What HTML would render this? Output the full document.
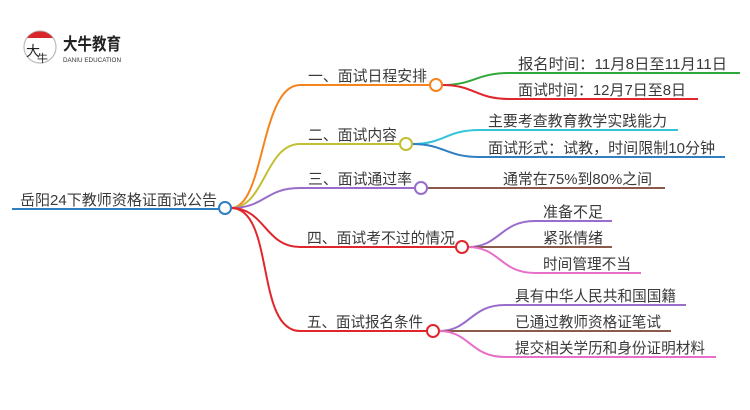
<!DOCTYPE html>
<html><head><meta charset="utf-8"><style>
html,body{margin:0;padding:0;background:#fff;}
svg{display:block}
text{font-family:"Liberation Sans","Noto Sans CJK SC",sans-serif;fill:#3a3a3a;}
</style></head><body>
<svg width="750" height="410" viewBox="0 0 750 410" xmlns="http://www.w3.org/2000/svg">
<!-- logo -->
<circle cx="40" cy="47" r="16" fill="#fff" stroke="#bbb" stroke-width="1.2"/>
<path d="M27,38 A16,16 0 0 1 53,38 Z" fill="#d9262b"/>
<text x="26" y="56" font-size="14" style="fill:#222">大</text>
<text x="37" y="62" font-size="11" style="fill:#222">牛</text>
<text x="63" y="50" font-size="17" font-weight="bold" style="fill:#222" textLength="58" lengthAdjust="spacingAndGlyphs">大牛教育</text>
<text x="63" y="62" font-size="6.5" style="fill:#333" textLength="58" lengthAdjust="spacingAndGlyphs">DANIU EDUCATION</text>

<g fill="none" stroke-width="2">
<line x1="12" y1="209" x2="219" y2="209" stroke="#2f7fc1"/>
<path d="M231,208 C265,208 260,85 300,85 L430,85" stroke="#f5841f"/>
<path d="M231,208 C265,208 265,144 300,144 L400,144" stroke="#c2c030"/>
<path d="M231,208 C265,208 265,188 300,188 L415,188" stroke="#9a6ccc"/>
<path d="M231,208 C265,208 265,247 300,247 L456,247" stroke="#e0262c"/>
<path d="M231,208 C275,208 255,331 300,331 L427,331" stroke="#e0262c"/>
<path d="M442,85 C475,85 475,73 510,73 L740,73" stroke="#2ea838"/>
<path d="M442,85 C475,85 475,99 510,99 L698,99" stroke="#e0262c"/>
<path d="M412,144 C445,144 445,130 480,130 L678,130" stroke="#33c4d8"/>
<path d="M412,144 C445,144 445,157 480,157 L725,157" stroke="#2f7fc1"/>
<path d="M427,188 L665,188" stroke="#8b5a4a"/>
<path d="M468,247 C500,247 500,221 535,221 L612,221" stroke="#9a6ccc"/>
<path d="M468,247 L612,247" stroke="#8b5a4a"/>
<path d="M468,247 C500,247 500,273 535,273 L641,273" stroke="#e86fc8"/>
<path d="M439,331 C470,331 470,305 505,305 L686,305" stroke="#9a6ccc"/>
<path d="M439,331 L671,331" stroke="#8b5a4a"/>
<path d="M439,331 C470,331 470,357 505,357 L716,357" stroke="#e86fc8"/>
</g>
<g fill="#fff" stroke-width="2">
<circle cx="225" cy="208" r="6" stroke="#2f7fc1"/>
<circle cx="436" cy="85" r="6" stroke="#f5841f"/>
<circle cx="406" cy="144" r="6" stroke="#c2c030"/>
<circle cx="421" cy="188" r="6" stroke="#9a6ccc"/>
<circle cx="462" cy="247" r="6" stroke="#e0262c"/>
<circle cx="433" cy="331" r="6" stroke="#e0262c"/>
</g>
<g font-size="15">
<text x="20" y="205" textLength="197" lengthAdjust="spacingAndGlyphs">岳阳24下教师资格证面试公告</text>
<text x="308" y="81" textLength="119" lengthAdjust="spacingAndGlyphs">一、面试日程安排</text>
<text x="308" y="140" textLength="89" lengthAdjust="spacingAndGlyphs">二、面试内容</text>
<text x="308" y="184" textLength="104" lengthAdjust="spacingAndGlyphs">三、面试通过率</text>
<text x="307" y="243" textLength="148" lengthAdjust="spacingAndGlyphs">四、面试考不过的情况</text>
<text x="307" y="327" textLength="116" lengthAdjust="spacingAndGlyphs">五、面试报名条件</text>
<text x="518" y="69" textLength="209" lengthAdjust="spacingAndGlyphs">报名时间：11月8日至11月11日</text>
<text x="518" y="95" textLength="168" lengthAdjust="spacingAndGlyphs">面试时间：12月7日至8日</text>
<text x="488" y="126" textLength="179" lengthAdjust="spacingAndGlyphs">主要考查教育教学实践能力</text>
<text x="488" y="153" textLength="227" lengthAdjust="spacingAndGlyphs">面试形式：试教，时间限制10分钟</text>
<text x="503" y="184" textLength="149" lengthAdjust="spacingAndGlyphs">通常在75%到80%之间</text>
<text x="543" y="217" textLength="60" lengthAdjust="spacingAndGlyphs">准备不足</text>
<text x="543" y="243" textLength="60" lengthAdjust="spacingAndGlyphs">紧张情绪</text>
<text x="543" y="269" textLength="88" lengthAdjust="spacingAndGlyphs">时间管理不当</text>
<text x="515" y="301" textLength="161" lengthAdjust="spacingAndGlyphs">具有中华人民共和国国籍</text>
<text x="515" y="327" textLength="146" lengthAdjust="spacingAndGlyphs">已通过教师资格证笔试</text>
<text x="515" y="353" textLength="190" lengthAdjust="spacingAndGlyphs">提交相关学历和身份证明材料</text>
</g>
</svg>
</body></html>
